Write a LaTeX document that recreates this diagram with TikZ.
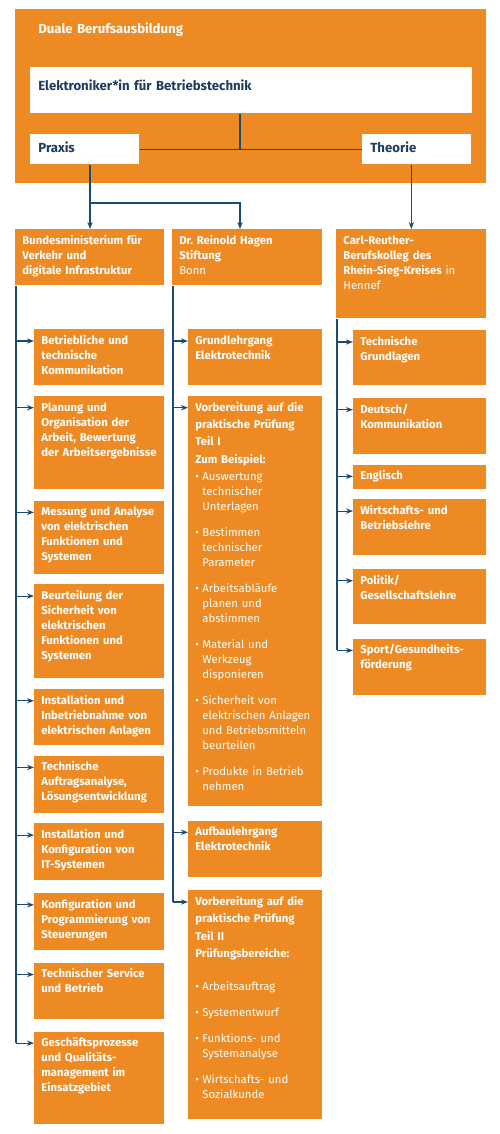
\documentclass[tikz,border=0pt]{standalone}
\usepackage{fontspec}
\setmainfont{Fira Sans}
\usepackage{tikz}
\usetikzlibrary{arrows.meta,positioning,calc}
\definecolor{borange}{HTML}{EE8A24}
\definecolor{navy}{HTML}{1C4B70}
\definecolor{inkblue}{HTML}{1F3B5E}
\newcommand{\bodyfont}{\fontsize{6.45}{8.53}\selectfont}
\newcommand{\topfont}{\fontsize{7.5}{9}\selectfont}
\newcommand{\bul}{\makebox[4pt][l]{\textbullet}}
\newcommand{\ind}{\hspace*{4pt}}
\tikzset{
  subbox/.style={
    rectangle, fill=borange, text=white, anchor=north west,
    font=\bodyfont\bfseries, align=left,
    inner xsep=0.14cm, inner ysep=0.1cm,
    text height=0.2cm, text depth=#1
  },
  subbox/.default=0.72cm,
  colA/.style={text width=2.32cm},
  colB/.style={text width=2.4cm},
  colC/.style={text width=2.38cm},
  whitebox/.style={
    rectangle, fill=white, text=inkblue, anchor=north west,
    font=\topfont\bfseries, align=left, inner xsep=0.16cm
  },
  link/.style={draw=navy, line width=0.6pt},
  linkarrow/.style={link, -{Stealth[length=4pt,width=3pt]}},
}
\begin{document}
\begin{tikzpicture}[x=0.02cm, y=-0.02cm, node distance=0.2cm]
  \useasboundingbox (0,0) rectangle (500,1134);
  \node[rectangle, fill=borange, text=white, anchor=north west,
    font=\topfont\bfseries, align=left, text width=8.5cm,
    inner xsep=0.46cm, inner ysep=0.28cm, text height=0.2cm, text depth=2.72cm]
    (dual) at (15,9) {Duale Berufsausbildung};
  \node[whitebox, text width=8.52cm, inner ysep=0.26cm, text height=0.2cm,
    text depth=0.2cm] (elek) at (30,67) {Elektroniker*in für Betriebstechnik};
  \node[whitebox, text width=1.86cm, inner ysep=0.1cm, text height=0.26cm,
    text depth=0.14cm] (praxis) at (30,134) {Praxis};
  \node[whitebox, text width=1.86cm, inner ysep=0.1cm, text height=0.26cm,
    text depth=0.14cm] (theorie) at (362,134) {Theorie};

  \node[subbox, text width=2.7cm] (bmvi) at (15,229)
    {Bundesministerium für\\Verkehr und\\digitale Infrastruktur};
  \node[subbox, text width=2.72cm] (reinold) at (172,229)
    {Dr.\ Reinold Hagen\\Stiftung\\\mdseries Bonn};
  \node[subbox=1.38cm, text width=2.72cm] (carl) at (336,229)
    {Carl-Reuther-\\Berufskolleg des\\Rhein-Sieg-Kreises {\mdseries in}\\\mdseries Hennef};

  \node[subbox, colA] (ba) at (34,329) {Betriebliche und\\technische\\Kommunikation};
  \node[subbox=1.46cm, colA, below=0.2cm of ba] (bb)
    {Planung und\\Organisation der\\Arbeit, Bewertung\\der Arbeitsergebnisse};
  \node[subbox=1.06cm, colA, below=0.22cm of bb] (bc)
    {Messung und Analyse\\von elektrischen\\Funktionen und\\Systemen};
  \node[subbox=1.48cm, colA, below=0.2cm of bc] (bd)
    {Beurteilung der\\Sicherheit von\\elektrischen\\Funktionen und\\Systemen};
  \node[subbox, colA, below=0.2cm of bd] (be)
    {Installation und\\Inbetriebnahme von\\elektrischen Anlagen};
  \node[subbox=0.74cm, colA, below=0.2cm of be] (bf)
    {Technische\\Auftragsanalyse,\\Lösungsentwicklung};
  \node[subbox=0.74cm, colA, below=0.2cm of bf] (bg)
    {Installation und\\Konfiguration von\\IT-Systemen};
  \node[subbox=0.74cm, colA, below=0.24cm of bg] (bh)
    {Konfiguration und\\Programmierung von\\Steuerungen};
  \node[subbox, colA, below=0.24cm of bh] (bi) {Technischer Service\\und Betrieb};
  \node[subbox=1.44cm, colA, below=0.24cm of bi] (bj)
    {Geschäftsprozesse\\und Qualitäts-\\management im\\Einsatzgebiet};

  \node[subbox, colB] (ra) at (188,329) {Grundlehrgang\\Elektrotechnik};
  \node[subbox=7.8cm, colB, below=0.2cm of ra] (rb)
    {Vorbereitung auf die\\[1.4pt]
     praktische Prüfung\\[1.4pt]
     Teil I\\[1.4pt]
     Zum Beispiel:\\[1.4pt]
     \mdseries\bul Auswertung\\
     \ind technischer\\
     \ind Unterlagen\\[6.3pt]
     \bul Bestimmen\\
     \ind technischer\\
     \ind Parameter\\[6.3pt]
     \bul Arbeitsabläufe\\
     \ind planen und\\
     \ind abstimmen\\[6.3pt]
     \bul Material und\\
     \ind Werkzeug\\
     \ind disponieren\\[6.3pt]
     \bul Sicherheit von\\
     \ind elektrischen Anlagen\\
     \ind und Betriebsmitteln\\
     \ind beurteilen\\[6.3pt]
     \bul Produkte in Betrieb\\
     \ind nehmen};
  \node[subbox, colB, below=0.28cm of rb] (rc) {Aufbaulehrgang\\Elektrotechnik};
  \node[subbox=4.18cm, colB, below=0.26cm of rc] (rd)
    {Vorbereitung auf die\\[1.4pt]
     praktische Prüfung\\[1.4pt]
     Teil II\\[1.4pt]
     Prüfungsbereiche:\\[10pt]
     \mdseries\bul Arbeitsauftrag\\[6.3pt]
     \bul Systementwurf\\[6.3pt]
     \bul Funktions- und\\
     \ind Systemanalyse\\[6.3pt]
     \bul Wirtschafts- und\\
     \ind Sozialkunde};

  \node[subbox=0.7cm, colC] (ta) at (353,330) {Technische\\Grundlagen};
  \node[subbox, colC, below=0.24cm of ta] (tb) {Deutsch/\\Kommunikation};
  \node[subbox=0.08cm, colC, below=0.2cm of tb] (tc) {Englisch};
  \node[subbox, colC, below=0.2cm of tc] (td) {Wirtschafts- und\\Betriebslehre};
  \node[subbox=0.7cm, colC, below=0.26cm of td] (te) {Politik/\\Gesellschaftslehre};
  \node[subbox, colC, below=0.28cm of te] (tf) {Sport/Gesundheits-\\förderung};

  \coordinate (tj) at (240,149);
  \draw[link] (elek.south -| tj) -- (tj);
  \draw[link] (praxis.east) -- (theorie.west);
  \coordinate (pj) at (90,203);
  \coordinate (rj) at (240,203);
  \draw[linkarrow] (praxis.south -| pj) -- (bmvi.north -| pj);
  \draw[linkarrow] (pj) -- (rj) -- (reinold.north -| rj);
  \draw[linkarrow] (theorie.south -| carl.north) -- (carl.north);

  \coordinate (sA) at ([xshift=0.02cm]bmvi.south west);
  \coordinate (sB) at ([xshift=0.02cm]reinold.south west);
  \coordinate (sC) at ([xshift=0.02cm]carl.south west);
  \foreach \n/\s in {ba/sA,bb/sA,bc/sA,bd/sA,be/sA,bf/sA,bg/sA,bh/sA,bi/sA,bj/sA,
                     ra/sB,rb/sB,rc/sB,rd/sB,
                     ta/sC,tb/sC,tc/sC,td/sC,te/sC,tf/sC} {
    \path ($(\n.north west)+(0,12)$) coordinate (hit);
    \draw[linkarrow] (\s |- hit) -- (hit);
  }
  \path ($(bj.north west)+(0,12)$) coordinate (endA);
  \path ($(rd.north west)+(0,12)$) coordinate (endB);
  \path ($(tf.north west)+(0,12)$) coordinate (endC);
  \draw[link] (sA) -- (sA |- endA);
  \draw[link] (sB) -- (sB |- endB);
  \draw[link] (sC) -- (sC |- endC);
\end{tikzpicture}
\end{document}
